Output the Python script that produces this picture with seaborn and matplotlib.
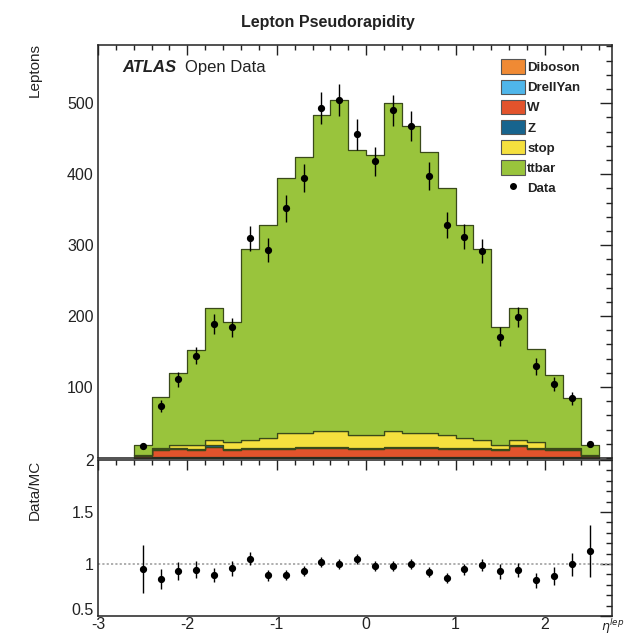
import numpy as np
import pandas as pd
import matplotlib
matplotlib.use("Agg")
import matplotlib.pyplot as plt
import matplotlib.transforms as mtransforms
import seaborn as sns
from matplotlib.patches import Patch
from matplotlib.lines import Line2D
from matplotlib.ticker import MultipleLocator, FixedLocator

# ---------------- data ----------------
eta_centers = [-2.5, -2.3, -2.1, -1.9, -1.7, -1.5, -1.3, -1.1, -0.9, -0.7, -0.5, -0.3, -0.1,
               0.1, 0.3, 0.5, 0.7, 0.9, 1.1, 1.3, 1.5, 1.7, 1.9, 2.1, 2.3, 2.5]
bin_edges = [-2.6, -2.4, -2.2, -2.0, -1.8, -1.6, -1.4, -1.2, -1.0, -0.8, -0.6, -0.4, -0.2, 0.0,
             0.2, 0.4, 0.6, 0.8, 1.0, 1.2, 1.4, 1.6, 1.8, 2.0, 2.2, 2.4, 2.6]

diboson = [0.2, 0.5, 0.5, 0.5, 0.5, 0.5, 0.5, 0.5, 0.5, 0.5, 0.5, 0.5, 0.5,
           0.5, 0.5, 0.5, 0.5, 0.5, 0.5, 0.5, 0.5, 0.5, 0.5, 0.5, 0.5, 0.2]
drellyan = [0.1, 0.3, 0.3, 0.3, 0.3, 0.3, 0.3, 0.3, 0.3, 0.3, 0.3, 0.3, 0.3,
            0.3, 0.3, 0.3, 0.3, 0.3, 0.3, 0.3, 0.3, 0.3, 0.3, 0.3, 0.3, 0.1]
w_boson = [3, 11, 12, 11, 15, 11, 12, 12, 12, 13, 13, 13, 12,
           12, 13, 13, 13, 12, 12, 12, 11, 16, 12, 11, 11, 3]
z_boson = [0.5, 1.5, 1.5, 1.5, 2, 1.5, 2, 2, 2, 2, 2, 2, 2,
           2, 2, 2, 2, 2, 2, 2, 1.5, 2, 1.5, 1.5, 1.5, 0.5]
stop = [1, 1, 4, 5, 8, 9, 11, 13, 20, 19, 22, 22, 17,
        17, 22, 20, 19, 17, 13, 10, 5, 7, 8, 1, 1, 1]
ttbar = [13, 71, 101, 134, 186, 170, 269, 301, 360, 389, 445, 466, 402,
         395, 462, 432, 396, 349, 301, 270, 166, 186, 131, 103, 70, 13]

data_counts = [17, 73, 111, 144, 189, 184, 310, 293, 352, 394, 493, 504, 456,
               418, 490, 468, 397, 328, 312, 292, 171, 199, 129, 104, 84, 20]
data_err = [4.1, 8.5, 10.5, 12.0, 13.7, 13.6, 17.6, 17.1, 18.8, 19.8, 22.2, 22.4, 21.4,
            20.4, 22.1, 21.6, 19.9, 18.1, 17.7, 17.1, 13.1, 14.1, 11.4, 10.2, 9.2, 4.5]

processes = ["Diboson", "DrellYan", "W", "Z", "stop", "ttbar"]
proc_values = {"Diboson": diboson, "DrellYan": drellyan, "W": w_boson,
               "Z": z_boson, "stop": stop, "ttbar": ttbar}
colors = {"Diboson": "#f08a34", "DrellYan": "#4fb6ea", "W": "#e2532c",
          "Z": "#17648e", "stop": "#f5e03e", "ttbar": "#99c43c"}

top_yticks = [100, 200, 300, 400, 500]
ratio_yticks = [0.5, 1, 1.5, 2]
ratio_ytick_labels = ["0.5", "1", "1.5", "2"]

# ---------------- figure ----------------
sns.set_style("white")
plt.rcParams["font.family"] = ["Liberation Sans", "DejaVu Sans"]
plt.rcParams["mathtext.fontset"] = "dejavusans"
plt.rcParams["axes.unicode_minus"] = False

fig = plt.figure(figsize=(6.26, 6.38), dpi=100)
ax1 = fig.add_axes([0.1565, 0.2821, 0.8211, 0.6474])
ax2 = fig.add_axes([0.1565, 0.0345, 0.8211, 0.2445])

rows = []
for p in processes:
    for e, v in zip(eta_centers, proc_values[p]):
        rows.append({"eta": e, "process": p, "count": v})
df = pd.DataFrame(rows)

sns.histplot(data=df, x="eta", weights="count", hue="process",
             hue_order=["ttbar", "stop", "Z", "W", "DrellYan", "Diboson"],
             multiple="stack", bins=bin_edges, element="step", fill=True,
             palette=colors, alpha=1, edgecolor="#3a4a1a", linewidth=0.9,
             legend=False, ax=ax1)

ax1.errorbar(eta_centers, data_counts, yerr=data_err, fmt="o", color="black",
             ms=4.2, elinewidth=1.0, capsize=0, zorder=5)

ax1.set_xlim(-3, 2.75)
ax1.set_ylim(0, 582)
ax1.set_xlabel("")
ax1.set_ylabel("")
ax1.yaxis.set_major_locator(FixedLocator(top_yticks))
ax1.yaxis.set_minor_locator(MultipleLocator(20))
ax1.xaxis.set_major_locator(MultipleLocator(1))
ax1.xaxis.set_minor_locator(MultipleLocator(0.2))
ax1.tick_params(axis="x", which="both", labelbottom=False)

# ratio panel
mc_total = np.sum([proc_values[p] for p in processes], axis=0)
ratio = np.array(data_counts) / mc_total
ratio_err = np.array(data_err) / mc_total

ax2.axhline(1.0, color="#a8a8a8", ls=(0, (1.2, 1.2)), lw=1.3, zorder=1)
ax2.errorbar(eta_centers, ratio, yerr=ratio_err, fmt="o", color="black",
             ms=4.2, elinewidth=1.0, capsize=0, zorder=5)
ax2.set_xlim(-3, 2.75)
ax2.set_ylim(0.5, 2.0)
ax2.yaxis.set_major_locator(FixedLocator(ratio_yticks))
ax2.yaxis.set_minor_locator(MultipleLocator(0.1))
ax2.xaxis.set_major_locator(MultipleLocator(1))
ax2.xaxis.set_minor_locator(MultipleLocator(0.2))
ax2.set_yticklabels(ratio_ytick_labels)

for ax in (ax1, ax2):
    for s in ax.spines.values():
        s.set_linewidth(1.1)
        s.set_color("#222222")
    ax.tick_params(which="both", direction="in", top=True, right=True,
                   labelsize=11.5, colors="#222222", width=1.0, pad=3)
    ax.tick_params(axis="y", which="major", length=9)
    ax.tick_params(axis="y", which="minor", length=4.5)
    ax.tick_params(axis="x", which="major", length=7)
    ax.tick_params(axis="x", which="minor", length=3.5)

ax2.tick_params(axis="x", pad=1)

# nudge the lowest ratio label up so it does not sit on the "-3" label
fig.canvas.draw()
low_lab = ax2.get_yticklabels()[0]
low_lab.set_transform(low_lab.get_transform() +
                      mtransforms.ScaledTranslation(0, 5 / 72, fig.dpi_scale_trans))

# texts
fig.text(0.524, 0.964, "Lepton Pseudorapidity", ha="center", va="center",
         fontsize=11.5, fontweight="bold", color="#222222")
fig.text(0.056, 0.932, "Leptons", rotation=90, ha="center", va="top",
         fontsize=11, color="#222222")
fig.text(0.056, 0.279, "Data/MC", rotation=90, ha="center", va="top",
         fontsize=11, color="#222222")
ax1.text(0.048, 0.945, "ATLAS", transform=ax1.transAxes, fontsize=12,
         fontweight="bold", fontstyle="italic", va="center", ha="left", color="#222222")
ax1.text(0.170, 0.945, "Open Data", transform=ax1.transAxes, fontsize=12,
         va="center", ha="left", color="#222222")
fig.text(0.997, 0.003, r"$\eta^{lep}$", ha="right", va="bottom", fontsize=9, color="#222222")

handles = [Patch(facecolor=colors[p], edgecolor="#555555", linewidth=0.8) for p in processes]
handles.append(Line2D([], [], marker="o", color="black", ls="none", ms=4))
leg = ax1.legend(handles, processes + ["Data"], loc="upper left",
                 bbox_to_anchor=(0.785, 0.965), frameon=False, fontsize=9.5,
                 handlelength=1.75, handleheight=1.3, labelspacing=0.42,
                 handletextpad=0.2, borderaxespad=0, borderpad=0)
for t in leg.get_texts():
    t.set_fontweight("bold")
    t.set_color("#222222")

fig.savefig("out.png", dpi=100)
